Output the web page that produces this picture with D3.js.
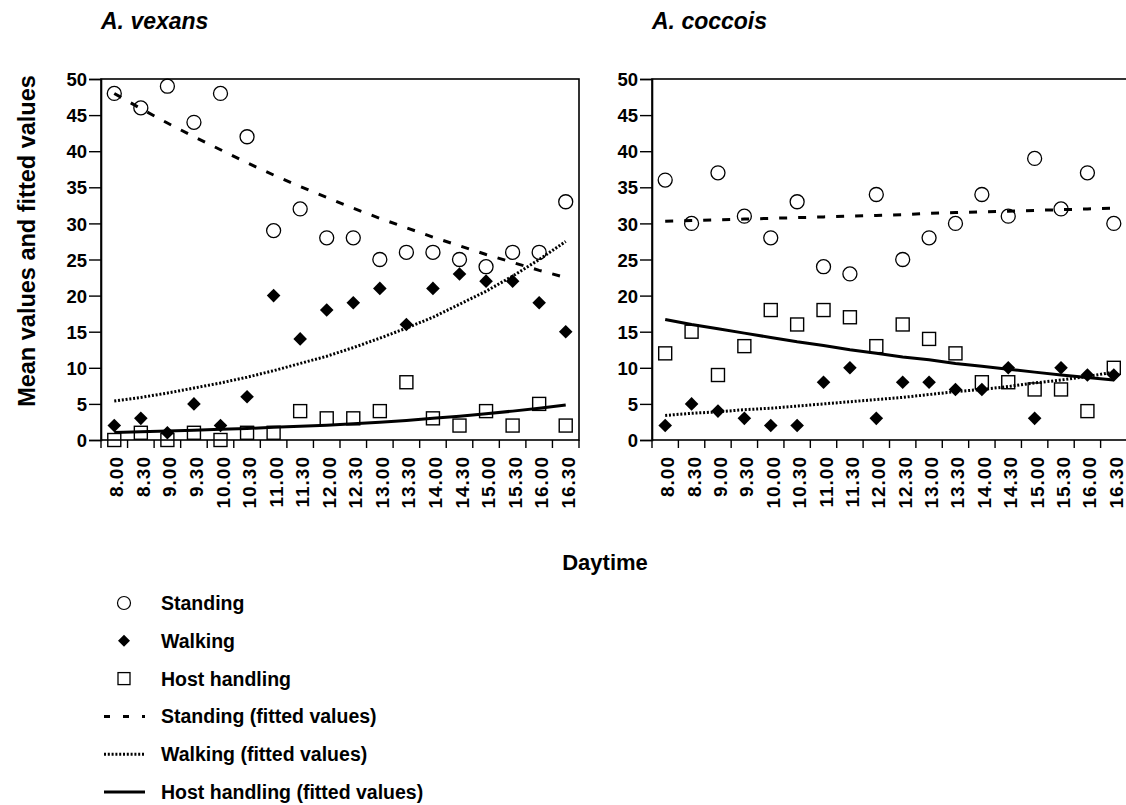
<!DOCTYPE html>
<html lang="en">
<head>
    <meta charset="UTF-8">
    <script src="https://d3js.org/d3.v7.min.js"></script>
    <title>Daytime behaviour</title>
    <style>
        body {
            margin: 0;
            background: white;
        }

        svg text {
            font-family: "Liberation Sans", Arial, sans-serif;
            font-weight: bold;
            fill: black;
        }
    </style>
</head>
<body>
    <div id="chart"></div>
    <script>
        // daytime categories (x axis)
        const times = ["8.00", "8.30", "9.00", "9.30", "10.00", "10.30", "11.00", "11.30", "12.00",
            "12.30", "13.00", "13.30", "14.00", "14.30", "15.00", "15.30", "16.00", "16.30"];
        const yTicks = [0, 5, 10, 15, 20, 25, 30, 35, 40, 45, 50];

        // A. vexans - mean values
        const vexansStanding = [48, 46, 49, 44, 48, 42, 29, 32, 28, 28, 25, 26, 26, 25, 24, 26, 26, 33];
        const vexansWalking = [2, 3, 1, 5, 2, 6, 20, 14, 18, 19, 21, 16, 21, 23, 22, 22, 19, 15];
        const vexansHost = [0, 1, 0, 1, 0, 1, 1, 4, 3, 3, 4, 8, 3, 2, 4, 2, 5, 2];
        // A. vexans - fitted values
        const vexansStandingFit = [48.0, 45.9, 43.9, 42.0, 40.2, 38.4, 36.7, 35.1, 33.6, 32.1, 30.7, 29.4, 28.1, 26.9, 25.7, 24.6, 23.5, 22.5];
        const vexansWalkingFit = [5.4, 5.9, 6.5, 7.2, 7.9, 8.7, 9.6, 10.6, 11.6, 12.8, 14.1, 15.5, 17.0, 18.8, 20.6, 22.7, 25.0, 27.5];
        const vexansHostFit = [1.05, 1.15, 1.25, 1.35, 1.5, 1.6, 1.75, 1.9, 2.05, 2.25, 2.45, 2.7, 3.0, 3.3, 3.65, 4.0, 4.4, 4.85];

        // A. coccois - mean values
        const coccoisStanding = [36, 30, 37, 31, 28, 33, 24, 23, 34, 25, 28, 30, 34, 31, 39, 32, 37, 30];
        const coccoisWalking = [2, 5, 4, 3, 2, 2, 8, 10, 3, 8, 8, 7, 7, 10, 3, 10, 9, 9];
        const coccoisHost = [12, 15, 9, 13, 18, 16, 18, 17, 13, 16, 14, 12, 8, 8, 7, 7, 4, 10];
        // A. coccois - fitted values
        const coccoisStandingFit = [30.3, 30.4, 30.5, 30.6, 30.7, 30.8, 30.9, 31.0, 31.1, 31.2, 31.4, 31.5, 31.6, 31.7, 31.8, 31.9, 32.0, 32.1];
        const coccoisWalkingFit = [3.4, 3.7, 3.9, 4.2, 4.4, 4.7, 5.0, 5.3, 5.6, 5.9, 6.3, 6.7, 7.0, 7.4, 7.9, 8.3, 8.8, 9.4];
        const coccoisHostFit = [16.7, 16.0, 15.4, 14.8, 14.2, 13.6, 13.1, 12.5, 12.0, 11.5, 11.1, 10.6, 10.2, 9.8, 9.4, 9.0, 8.65, 8.3];

        const legendItems = ["Standing", "Walking", "Host handling",
            "Standing (fitted values)", "Walking (fitted values)", "Host handling (fitted values)"];

        const width = 1126, height = 805;
        const plotTop = 79, plotBottom = 440;

        const svg = d3.select("#chart").append("svg")
            .attr("width", width)
            .attr("height", height);

        const y = d3.scaleLinear().domain([0, 50]).range([plotBottom, plotTop]);

        const diamondPath = "M0,-6.8L6.8,0L0,6.8L-6.8,0Z";

        const lineStyles = {
            dashed: { width: 3, dash: "8,11" },
            dotted: { width: 3, dash: "2,1.8" },
            solid: { width: 3, dash: null }
        };

        const drawPanel = (cfg) => {
            const x = d3.scaleBand().domain(times).range([cfg.left, cfg.left + cfg.w]).padding(0);
            const g = svg.append("g");
            const cx = (d, i) => x(times[i]) + x.bandwidth() / 2;

            // frame
            g.append("rect")
                .attr("x", cfg.left).attr("y", plotTop)
                .attr("width", cfg.w).attr("height", plotBottom - plotTop)
                .attr("fill", "none").attr("stroke", "black").attr("stroke-width", 1.6);

            // y axis
            const yAxis = g.append("g")
                .attr("transform", `translate(${cfg.left},0)`)
                .call(d3.axisLeft(y).tickValues(yTicks).tickSize(12).tickPadding(2));
            yAxis.select(".domain").attr("stroke-width", 1.6);
            yAxis.selectAll(".tick line").attr("stroke-width", 1.4);
            yAxis.selectAll("text")
                .style("font-size", "18.5px")
                .style("font-family", "'Liberation Sans', Arial, sans-serif")
                .style("font-weight", "bold")
                .attr("dy", "0.36em");

            // x ticks on the band boundaries
            const bounds = times.map(t => x(t)).concat([cfg.left + cfg.w]);
            g.selectAll(".xtick").data(bounds).enter().append("line")
                .attr("x1", d => d).attr("x2", d => d)
                .attr("y1", plotBottom).attr("y2", plotBottom + 8)
                .attr("stroke", "black").attr("stroke-width", 1.4);

            // x labels, rotated
            g.selectAll(".xlab").data(times).enter().append("text")
                .attr("transform", d => `translate(${x(d) + x.bandwidth() / 2 + 9},${plotBottom + 16}) rotate(-90)`)
                .attr("text-anchor", "end")
                .style("font-size", "19px")
                .style("letter-spacing", "1px")
                .text(d => d);

            // fitted lines
            const line = d3.line().x(cx).y(d => y(d));
            cfg.fits.forEach(f => {
                const st = lineStyles[f.style];
                g.append("path")
                    .datum(f.values)
                    .attr("d", line)
                    .attr("fill", "none")
                    .attr("stroke", "black")
                    .attr("stroke-width", st.width)
                    .attr("stroke-dasharray", st.dash);
            });

            // markers
            g.selectAll(".circ").data(cfg.standing).enter().append("circle")
                .attr("cx", cx).attr("cy", d => y(d)).attr("r", 7)
                .attr("fill", "none").attr("stroke", "black").attr("stroke-width", 1.3);
            g.selectAll(".sq").data(cfg.host).enter().append("rect")
                .attr("x", (d, i) => cx(d, i) - 6.5).attr("y", d => y(d) - 6.5)
                .attr("width", 13).attr("height", 13)
                .attr("fill", "none").attr("stroke", "black").attr("stroke-width", 1.4);
            g.selectAll(".dia").data(cfg.walking).enter().append("path")
                .attr("d", diamondPath)
                .attr("transform", (d, i) => `translate(${cx(d, i)},${y(d)})`)
                .attr("fill", "black");

            // panel title
            svg.append("text")
                .attr("x", cfg.left).attr("y", 29)
                .style("font-size", "23px")
                .style("font-style", "italic")
                .text(cfg.title);
        };

        drawPanel({
            title: "A. vexans", left: 101, w: 478,
            standing: vexansStanding, walking: vexansWalking, host: vexansHost,
            fits: [
                { values: vexansStandingFit, style: "dashed" },
                { values: vexansWalkingFit, style: "dotted" },
                { values: vexansHostFit, style: "solid" }
            ]
        });

        drawPanel({
            title: "A. coccois", left: 652, w: 475,
            standing: coccoisStanding, walking: coccoisWalking, host: coccoisHost,
            fits: [
                { values: coccoisStandingFit, style: "dashed" },
                { values: coccoisWalkingFit, style: "dotted" },
                { values: coccoisHostFit, style: "solid" }
            ]
        });

        // axis titles
        svg.append("text")
            .attr("transform", "translate(35,241) rotate(-90)")
            .attr("text-anchor", "middle")
            .style("font-size", "23.5px")
            .text("Mean values and fitted values");

        svg.append("text")
            .attr("x", 605).attr("y", 570)
            .attr("text-anchor", "middle")
            .style("font-size", "22px")
            .text("Daytime");

        // legend
        const legend = svg.append("g");
        const rowY = d3.scalePoint().domain(legendItems).range([610, 799]);
        legendItems.forEach((name, i) => {
            const yy = rowY(name) - 7;
            if (i === 0) {
                legend.append("circle").attr("cx", 124).attr("cy", yy).attr("r", 6.5)
                    .attr("fill", "none").attr("stroke", "black").attr("stroke-width", 1.2);
            } else if (i === 1) {
                legend.append("path").attr("d", "M0,-6L6,0L0,6L-6,0Z")
                    .attr("transform", `translate(124,${yy})`).attr("fill", "black");
            } else if (i === 2) {
                legend.append("rect").attr("x", 118).attr("y", yy - 6).attr("width", 12).attr("height", 12)
                    .attr("fill", "none").attr("stroke", "black").attr("stroke-width", 1.3);
            } else {
                const st = lineStyles[["dashed", "dotted", "solid"][i - 3]];
                legend.append("line")
                    .attr("x1", 104).attr("x2", 145).attr("y1", yy).attr("y2", yy)
                    .attr("stroke", "black")
                    .attr("stroke-width", st.width)
                    .attr("stroke-dasharray", i === 3 ? "6,13" : st.dash);
            }
            legend.append("text")
                .attr("x", 161).attr("y", rowY(name))
                .style("font-size", "19.5px")
                .text(name);
        });
    </script>
</body>
</html>
